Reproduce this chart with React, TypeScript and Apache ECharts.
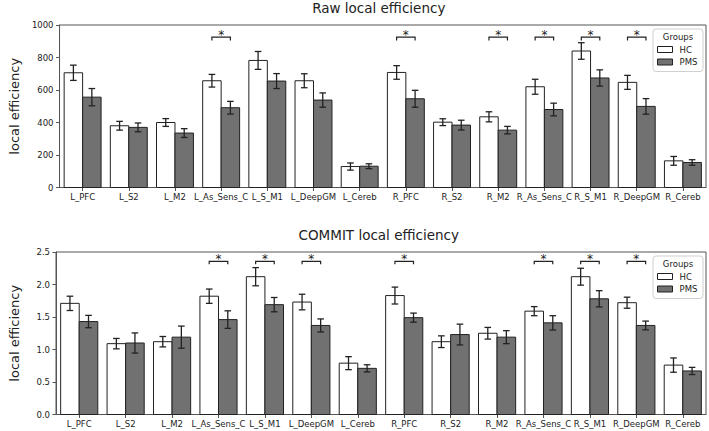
import React, { useEffect, useRef } from "react";
import * as echarts from "echarts";

const categories = ["L_PFC", "L_S2", "L_M2", "L_As_Sens_C", "L_S_M1", "L_DeepGM", "L_Cereb", "R_PFC", "R_S2", "R_M2", "R_As_Sens_C", "R_S_M1", "R_DeepGM", "R_Cereb"];

const rawHC = [706, 380, 400, 657, 782, 657, 129, 708, 402, 435, 620, 840, 647, 164];
const rawHCErr = [47, 27, 24, 39, 55, 43, 22, 42, 21, 31, 46, 51, 43, 27];
const rawPMS = [556, 370, 335, 491, 655, 538, 131, 546, 384, 353, 480, 674, 499, 154];
const rawPMSErr = [53, 27, 27, 39, 46, 44, 15, 52, 30, 23, 39, 50, 48, 17];
const rawSig = [3, 7, 9, 10, 11, 12];

const commitHC = [1.71, 1.09, 1.12, 1.82, 2.12, 1.73, 0.79, 1.83, 1.12, 1.25, 1.59, 2.12, 1.72, 0.76];
const commitHCErr = [0.11, 0.08, 0.08, 0.11, 0.14, 0.12, 0.1, 0.13, 0.09, 0.09, 0.07, 0.13, 0.085, 0.11];
const commitPMS = [1.43, 1.1, 1.19, 1.46, 1.69, 1.37, 0.71, 1.49, 1.23, 1.19, 1.41, 1.78, 1.37, 0.67];
const commitPMSErr = [0.095, 0.155, 0.17, 0.135, 0.11, 0.1, 0.055, 0.07, 0.16, 0.1, 0.11, 0.125, 0.067, 0.055];
const commitSig = [3, 4, 5, 7, 10, 11, 12];

const titles = ["Raw local efficiency", "COMMIT local efficiency"];
const yLabel = "local efficiency";
const groupNames = ["HC", "PMS"];
const legendTitle = "Groups";

const FONT = "DejaVu Sans";
const TXT = "#222";
const EDGE = "#222";
const HC_FILL = "#ffffff";
const PMS_FILL = "#717171";

const GRID_LEFT = 51.5;
const GRID_RIGHT_X = 706;
const GRID_TOPS = [25, 252];
const GRID_H = 162.5;

function barSeries(name: string, gi: number, values: number[], errs: number[], offset: number, fill: string) {
  return {
    type: "custom",
    name,
    xAxisIndex: gi,
    yAxisIndex: gi,
    data: values.map((v, i) => [i, v, errs[i]]),
    renderItem: (params: any, api: any) => {
      const i = api.value(0);
      const v = api.value(1);
      const e = api.value(2);
      const p0 = api.coord([i + offset, v]);
      const p1 = api.coord([i + offset + 0.4, 0]);
      const cx = (p0[0] + p1[0]) / 2;
      const top = api.coord([i, v + e])[1];
      const bot = api.coord([i, v - e])[1];
      const cap = 3.3;
      const ls = { stroke: EDGE, lineWidth: 1.3 };
      return {
        type: "group",
        children: [
          { type: "rect", shape: { x: p0[0], y: p0[1], width: p1[0] - p0[0], height: p1[1] - p0[1] }, style: { fill, stroke: EDGE, lineWidth: 1 } },
          { type: "line", shape: { x1: cx, y1: top, x2: cx, y2: bot }, style: ls },
          { type: "line", shape: { x1: cx - cap, y1: top, x2: cx + cap, y2: top }, style: ls },
          { type: "line", shape: { x1: cx - cap, y1: bot, x2: cx + cap, y2: bot }, style: ls },
        ],
      };
    },
  };
}

function sigSeries(gi: number, sig: number[], lineVal: number, tickVal: number) {
  return {
    type: "custom",
    name: "sig" + gi,
    xAxisIndex: gi,
    yAxisIndex: gi,
    data: sig.map((i) => [i]),
    renderItem: (params: any, api: any) => {
      const i = api.value(0);
      const a = api.coord([i - 0.2, lineVal]);
      const b = api.coord([i + 0.2, lineVal]);
      const t = api.coord([i, tickVal])[1];
      return {
        type: "group",
        children: [
          { type: "polyline", shape: { points: [[a[0], t], [a[0], a[1]], [b[0], b[1]], [b[0], t]] }, style: { stroke: EDGE, lineWidth: 1.2, fill: "none" } },
          {
            type: "text",
            style: {
              text: "*",
              x: (a[0] + b[0]) / 2,
              y: a[1] - 2.5,
              align: "center",
              verticalAlign: "middle",
              textAlign: "center",
              textVerticalAlign: "middle",
              fontSize: 12,
              fontFamily: FONT,
              fill: TXT,
            },
          },
        ],
      };
    },
  };
}

function legendGraphics(top: number) {
  const bx = 653;
  const els: any[] = [
    { type: "rect", shape: { x: bx, y: top + 4, width: 50, height: 42.5, r: 3 }, style: { fill: "rgba(255,255,255,0.85)", stroke: "#d0d0d0", lineWidth: 1 } },
    { type: "text", style: { text: legendTitle, x: 678, y: top + 12, align: "center", verticalAlign: "middle", textAlign: "center", textVerticalAlign: "middle", fontSize: 8.5, fontFamily: FONT, fill: TXT } },
  ];
  const fills = [HC_FILL, PMS_FILL];
  groupNames.forEach((g, k) => {
    const yc = top + 24.5 + k * 12.5;
    els.push({ type: "rect", shape: { x: 657.5, y: yc - 3, width: 15, height: 6 }, style: { fill: fills[k], stroke: EDGE, lineWidth: 1 } });
    els.push({ type: "text", style: { text: g, x: 679.5, y: yc, align: "left", verticalAlign: "middle", textAlign: "left", textVerticalAlign: "middle", fontSize: 8.5, fontFamily: FONT, fill: TXT } });
  });
  return els;
}

export default function App() {
  const ref = useRef<HTMLDivElement>(null);
  useEffect(() => {
    if (!ref.current) return;
    const chart = echarts.init(ref.current, undefined, { renderer: "svg" });
    const tickIdx = categories.map((_, i) => i);
    const grids = GRID_TOPS.map((t) => ({
      left: GRID_LEFT,
      right: 709 - GRID_RIGHT_X,
      top: t,
      height: GRID_H,
      show: true,
      borderColor: "#555",
      borderWidth: 1,
      backgroundColor: "transparent",
      containLabel: false,
    }));
    const xAxes = [0, 1].map((gi) => ({
      type: "value",
      gridIndex: gi,
      min: -0.5,
      max: 13.5,
      splitLine: { show: false },
      axisLine: { show: true, onZero: false, lineStyle: { color: "#555", width: 1 } },
      axisTick: { show: true, customValues: tickIdx, length: 3.5, lineStyle: { color: "#555" } },
      axisLabel: {
        show: true,
        customValues: tickIdx,
        formatter: (v: number) => categories[Math.round(v)] ?? "",
        fontSize: 8.5,
        fontFamily: FONT,
        color: TXT,
        margin: 5,
      },
    }));
    const yAxes = [
      { max: 1000, interval: 200, fmt: (v: number) => String(v) },
      { max: 2.5, interval: 0.5, fmt: (v: number) => v.toFixed(1) },
    ].map((c, gi) => ({
      type: "value",
      gridIndex: gi,
      min: 0,
      max: c.max,
      interval: c.interval,
      name: yLabel,
      nameLocation: "middle",
      nameGap: 35,
      nameTextStyle: { fontSize: 13, fontFamily: FONT, color: TXT },
      splitLine: { show: false },
      axisLine: { show: true, onZero: false, lineStyle: { color: "#555", width: 1 } },
      axisTick: { show: true, length: 3.5, lineStyle: { color: "#555" } },
      axisLabel: { formatter: c.fmt, fontSize: 8.5, fontFamily: FONT, color: TXT, margin: 6 },
    }));
    const titleGraphics = titles.map((t, k) => ({
      type: "text",
      style: {
        text: t,
        x: (GRID_LEFT + GRID_RIGHT_X) / 2,
        y: k === 0 ? 7.5 : 235,
        align: "center",
        verticalAlign: "middle",
        textAlign: "center",
        textVerticalAlign: "middle",
        fontSize: 13.5,
        fontFamily: FONT,
        fill: TXT,
      },
    }));
    chart.setOption({
      animation: false,
      backgroundColor: "#fff",
      grid: grids,
      xAxis: xAxes,
      yAxis: yAxes,
      series: [
        barSeries(groupNames[0], 0, rawHC, rawHCErr, -0.4, HC_FILL),
        barSeries(groupNames[1], 0, rawPMS, rawPMSErr, 0, PMS_FILL),
        sigSeries(0, rawSig, 925, 905),
        barSeries(groupNames[0] + " ", 1, commitHC, commitHCErr, -0.4, HC_FILL),
        barSeries(groupNames[1] + " ", 1, commitPMS, commitPMSErr, 0, PMS_FILL),
        sigSeries(1, commitSig, 2.355, 2.31),
      ],
      graphic: [...titleGraphics, ...legendGraphics(GRID_TOPS[0]), ...legendGraphics(GRID_TOPS[1])],
    });
    return () => chart.dispose();
  }, []);
  return <div ref={ref} style={{ position: "fixed", left: 0, top: 0, width: 709, height: 431 }} />;
}
